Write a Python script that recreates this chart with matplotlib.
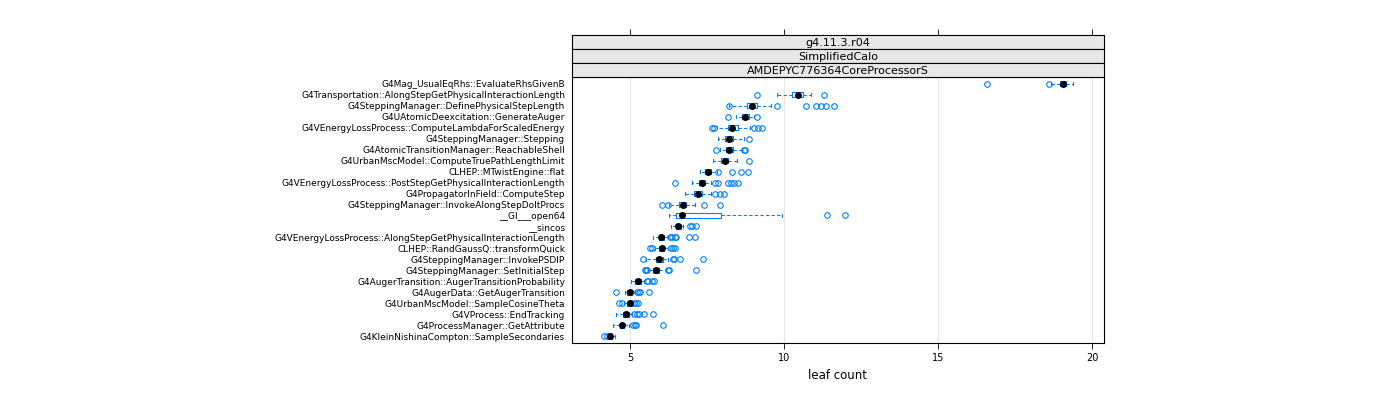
import matplotlib
matplotlib.use("Agg")
import matplotlib.pyplot as plt
from matplotlib.patches import Rectangle

categories = [
 "G4Mag_UsualEqRhs::EvaluateRhsGivenB",
 "G4Transportation::AlongStepGetPhysicalInteractionLength",
 "G4SteppingManager::DefinePhysicalStepLength",
 "G4UAtomicDeexcitation::GenerateAuger",
 "G4VEnergyLossProcess::ComputeLambdaForScaledEnergy",
 "G4SteppingManager::Stepping",
 "G4AtomicTransitionManager::ReachableShell",
 "G4UrbanMscModel::ComputeTruePathLengthLimit",
 "CLHEP::MTwistEngine::flat",
 "G4VEnergyLossProcess::PostStepGetPhysicalInteractionLength",
 "G4PropagatorInField::ComputeStep",
 "G4SteppingManager::InvokeAlongStepDoItProcs",
 "__GI___open64",
 "__sincos",
 "G4VEnergyLossProcess::AlongStepGetPhysicalInteractionLength",
 "CLHEP::RandGaussQ::transformQuick",
 "G4SteppingManager::InvokePSDIP",
 "G4SteppingManager::SetInitialStep",
 "G4AugerTransition::AugerTransitionProbability",
 "G4AugerData::GetAugerTransition",
 "G4UrbanMscModel::SampleCosineTheta",
 "G4VProcess::EndTracking",
 "G4ProcessManager::GetAttribute",
 "G4KleinNishinaCompton::SampleSecondaries",
]
whislo = [18.66, 9.78, 8.23, 8.44, 7.83, 7.87, 7.94, 7.70, 7.28, 7.00, 6.78, 6.28,
          6.28, 6.35, 5.74, 5.82, 5.53, 5.58, 5.04, 4.85, 4.80, 4.55, 4.44, 4.27]
q1 = [18.97, 10.25, 8.80, 8.63, 8.19, 8.10, 8.13, 7.97, 7.44, 7.24, 7.08, 6.59,
      6.49, 6.48, 5.94, 5.94, 5.84, 5.76, 5.18, 4.91, 4.91, 4.79, 4.68, 4.29]
med = [19.05, 10.45, 8.95, 8.74, 8.33, 8.21, 8.23, 8.08, 7.53, 7.33, 7.21, 6.71,
       6.70, 6.57, 6.02, 6.03, 5.94, 5.85, 5.26, 4.99, 4.99, 4.88, 4.75, 4.36]
q3 = [19.15, 10.62, 9.13, 8.85, 8.50, 8.34, 8.36, 8.19, 7.62, 7.44, 7.33, 6.83,
      7.96, 6.67, 6.11, 6.11, 6.06, 5.95, 5.35, 5.07, 5.07, 4.96, 4.82, 4.43]
whishi = [19.39, 10.87, 9.57, 9.02, 8.91, 8.69, 8.65, 8.48, 7.84, 7.64, 7.63, 7.11,
          9.93, 6.72, 6.23, 6.23, 6.23, 6.17, 5.45, 5.16, 5.10, 5.07, 4.96, 4.51]
outliers = [
 [16.6, 18.59],
 [9.12, 11.30],
 [8.21, 9.79, 10.70, 11.03, 11.19, 11.36, 11.61],
 [8.18, 9.14],
 [7.67, 7.73, 9.04, 9.15, 9.28],
 [8.87],
 [7.80, 8.71, 8.74],
 [8.85],
 [7.86, 8.32, 8.60, 8.83],
 [6.46, 7.77, 7.85, 8.18, 8.27, 8.38, 8.51],
 [7.77, 7.94, 8.07],
 [6.04, 6.23, 7.42, 7.94],
 [11.41, 11.97],
 [6.95, 7.01, 7.15],
 [6.31, 6.37, 6.45, 6.49, 6.91, 7.10],
 [5.65, 5.71, 6.34, 6.39, 6.46],
 [5.43, 6.39, 6.44, 6.61, 7.36],
 [5.49, 5.53, 5.55, 6.25, 6.27, 7.13],
 [5.56, 5.60, 5.73, 5.79],
 [4.56, 5.23, 5.29, 5.34, 5.62],
 [4.65, 4.73, 5.14, 5.21, 5.26],
 [5.14, 5.23, 5.29, 5.46, 5.76],
 [5.09, 5.15, 5.21, 6.07],
 [4.16, 4.25],
]
strip_labels = ["g4.11.3.r04", "SimplifiedCalo", "AMDEPYC776364CoreProcessorS"]
xticks = [5, 10, 15, 20]
xlabel = "leaf count"

blue = "#0080ff"
fig = plt.figure(figsize=(14, 4), dpi=100)
L, R, B, T = 572/1400, 1104/1400, 1-343/400, 1-77/400
ax = fig.add_axes([L, B, R-L, T-B])
n = len(categories)
pos = list(range(n, 0, -1))
stats = []
for i in range(n):
    stats.append(dict(whislo=whislo[i], q1=q1[i], med=med[i], q3=q3[i],
                      whishi=whishi[i], fliers=outliers[i]))
ax.bxp(stats, positions=pos, vert=False, widths=0.5, showcaps=True,
       boxprops=dict(color=blue, lw=0.8),
       whiskerprops=dict(color=blue, lw=0.8, ls=(0, (3, 2))),
       capprops=dict(color=blue, lw=0.8),
       medianprops=dict(lw=0),
       flierprops=dict(marker="o", mfc="none", mec=blue, ms=4, mew=0.8))
ax.scatter(med, pos, s=16, color="black", zorder=5)
ax.set_xlim(3.12, 20.39)
ax.set_ylim(0.4, n + 0.6)
ax.set_yticks(pos)
ax.set_yticklabels(categories, fontsize=6.5)
ax.set_xticks(xticks)
ax.set_xticklabels([str(t) for t in xticks], fontsize=7)
ax.tick_params(axis="both", direction="out", length=4, width=0.6)
ax.tick_params(axis="y", length=0, pad=5)
ax.grid(axis="x", color="#e6e6e6", lw=0.8)
ax.set_axisbelow(True)
for s in ax.spines.values():
    s.set_linewidth(0.8)
ax.set_xlabel(xlabel, fontsize=8.5)

sh = 14/400
for k, lab in enumerate(strip_labels):
    y0 = T + (2 - k) * sh
    sax = fig.add_axes([L, y0, R-L, sh])
    sax.set_xticks([]); sax.set_yticks([])
    sax.set_facecolor("#e8e8e8")
    for s in sax.spines.values():
        s.set_linewidth(0.8)
    sax.text(0.5, 0.45, lab, ha="center", va="center", fontsize=8, transform=sax.transAxes)
# top ticks
tax = fig.add_axes([L, T, R-L, 3*sh])
tax.set_xlim(ax.get_xlim())
tax.patch.set_alpha(0)
for s in tax.spines.values():
    s.set_visible(False)
tax.set_yticks([])
tax.xaxis.tick_top()
tax.set_xticks(xticks)
tax.set_xticklabels([])
tax.tick_params(axis="x", direction="out", length=4, width=0.6)

fig.savefig("out.png", dpi=100)
